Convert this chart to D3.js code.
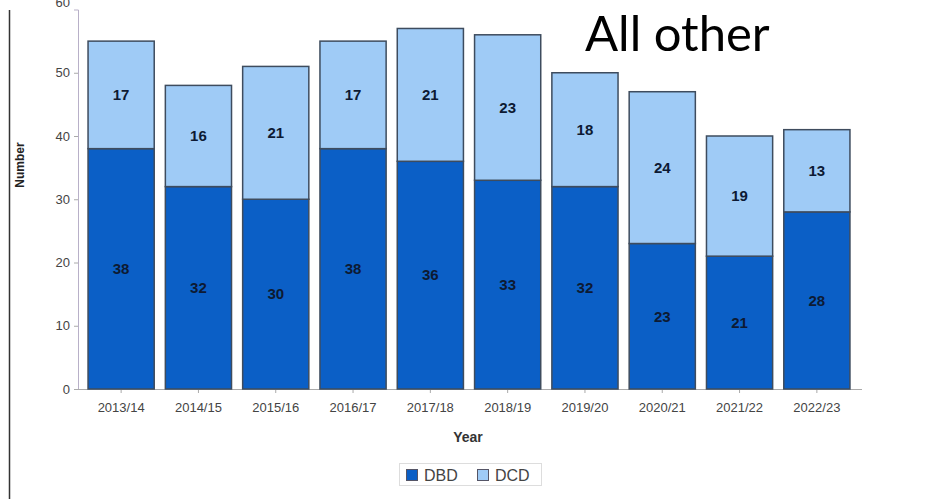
<!DOCTYPE html>
<html>
<head>
<meta charset="utf-8">
<script src="https://cdn.jsdelivr.net/npm/d3@7"></script>
<style>
  body { margin: 0; background: #fff; }
  svg { display: block; }
</style>
</head>
<body>
<div id="chart"></div>
<script>
const years = ["2013/14", "2014/15", "2015/16", "2016/17", "2017/18", "2018/19", "2019/20", "2020/21", "2021/22", "2022/23"];
const dbd = [38, 32, 30, 38, 36, 33, 32, 23, 21, 28];
const dcd = [17, 16, 21, 17, 21, 23, 18, 24, 19, 13];
const seriesNames = ["DBD", "DCD"];
const yTicks = [0, 10, 20, 30, 40, 50, 60];

const width = 940;
const height = 499;
const colors = { DBD: "#0b5fc6", DCD: "#9fcbf6" };

const rows = years.map((y, i) => ({ year: y, DBD: dbd[i], DCD: dcd[i] }));
const stacked = d3.stack().keys(seriesNames)(rows);

const x = d3.scaleBand()
  .domain(years)
  .range([78, 860])
  .paddingInner(0.144)
  .paddingOuter(0.13);

const y = d3.scaleLinear()
  .domain([0, 60])
  .range([389, 9.5]);

const svg = d3.select("#chart").append("svg")
  .attr("width", width)
  .attr("height", height)
  .style("font-family", "Arial, 'Liberation Sans', sans-serif");

// frame line at far left
svg.append("line")
  .attr("x1", 9.5).attr("x2", 9.5)
  .attr("y1", 10).attr("y2", height)
  .attr("stroke", "#333").attr("stroke-width", 1.5);

// y axis
const yAxis = svg.append("g")
  .attr("transform", "translate(78,0)")
  .call(d3.axisLeft(y).tickValues(yTicks).tickSize(4).tickPadding(4));
yAxis.select(".domain").attr("stroke", "#b8b0c8");
yAxis.selectAll(".tick line").attr("stroke", "#aaa");
yAxis.selectAll(".tick text").attr("fill", "#444").style("font-size", "13px");
// top label is cut off by the top edge in the original picture
yAxis.selectAll(".tick").filter(d => d === 60)
  .call(t => t.select("line").remove())
  .select("text").attr("dy", "-0.25em");

// x axis
const xAxis = svg.append("g")
  .attr("transform", "translate(0,389)")
  .call(d3.axisBottom(x).tickSize(4).tickPadding(10).tickSizeOuter(0));
xAxis.select(".domain").attr("stroke", "#aaa").attr("d", "M78,0.5H862");
xAxis.selectAll(".tick line").attr("stroke", "#aaa");
xAxis.selectAll(".tick text").attr("fill", "#444").style("font-size", "13px");

// bars
const layer = svg.append("g")
  .selectAll("g")
  .data(stacked)
  .join("g")
  .attr("fill", d => colors[d.key]);

layer.selectAll("rect")
  .data(d => d)
  .join("rect")
  .attr("x", d => x(d.data.year))
  .attr("y", d => y(d[1]))
  .attr("width", x.bandwidth())
  .attr("height", d => y(d[0]) - y(d[1]))
  .attr("stroke", "#3e4c5e")
  .attr("stroke-width", 1.5);

// segment labels
layer.selectAll("text")
  .data(d => d)
  .join("text")
  .attr("x", d => x(d.data.year) + x.bandwidth() / 2)
  .attr("y", d => y((d[0] + d[1]) / 2))
  .attr("dy", "0.35em")
  .attr("text-anchor", "middle")
  .attr("fill", "#0d1a33")
  .style("font-size", "15px")
  .style("font-weight", "bold")
  .text(d => d[1] - d[0]);

// axis titles
svg.append("text")
  .attr("x", 468).attr("y", 442)
  .attr("text-anchor", "middle")
  .attr("fill", "#333")
  .style("font-size", "14px").style("font-weight", "bold")
  .text("Year");

svg.append("text")
  .attr("transform", "translate(24,165) rotate(-90)")
  .attr("text-anchor", "middle")
  .attr("fill", "#222")
  .style("font-size", "12px").style("font-weight", "bold")
  .text("Number");

// legend
const legend = svg.append("g");
legend.append("rect")
  .attr("x", 399.5).attr("y", 463.5)
  .attr("width", 142).attr("height", 22)
  .attr("fill", "#fff").attr("stroke", "#ddd");

const legendX = [406, 477];
seriesNames.forEach((name, i) => {
  legend.append("rect")
    .attr("x", legendX[i] + 0.5).attr("y", 469.5)
    .attr("width", 11).attr("height", 11)
    .attr("fill", colors[name]).attr("stroke", "#556");
  legend.append("text")
    .attr("x", legendX[i] + 18).attr("y", 475)
    .attr("dy", "0.35em")
    .attr("fill", "#444")
    .style("font-size", "16px")
    .text(name);
});

// big title
svg.append("text")
  .attr("x", 585).attr("y", 51)
  .attr("fill", "#000")
  .style("font-family", "Lato, 'Open Sans', sans-serif")
  .style("font-size", "49px")
  .text("All other");
</script>
</body>
</html>
